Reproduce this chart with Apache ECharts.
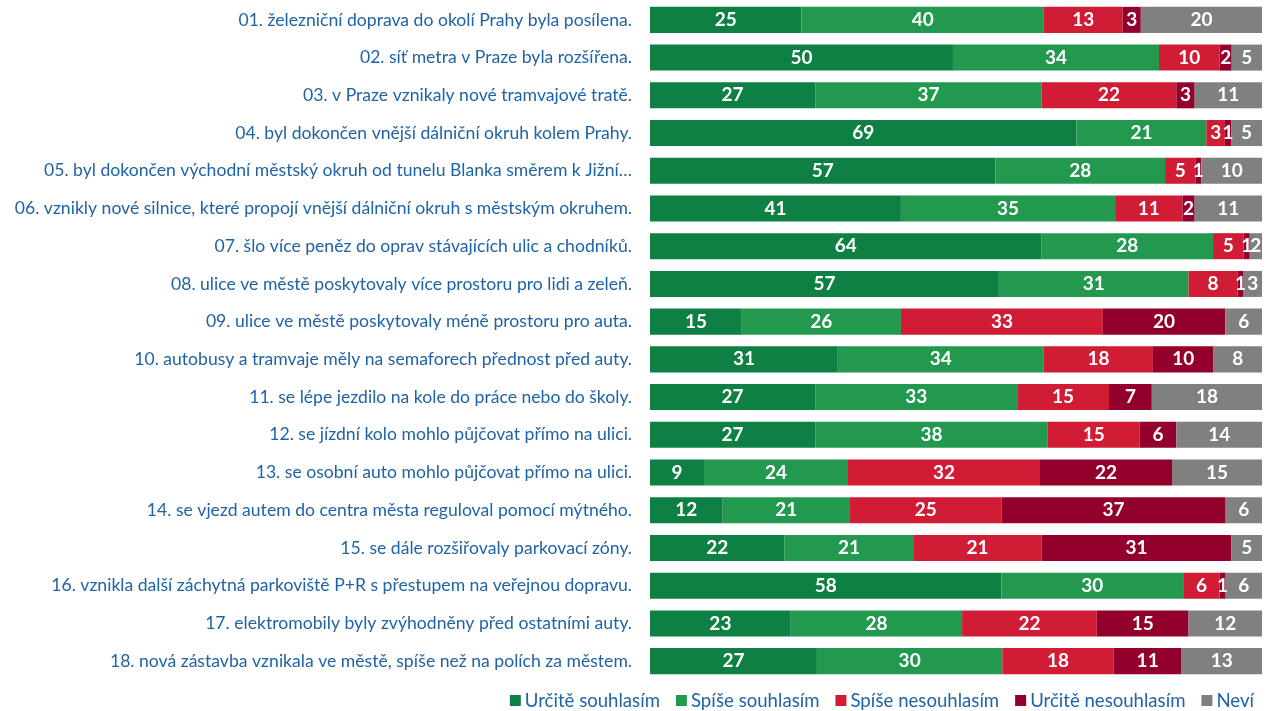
<!DOCTYPE html>
<html><head><meta charset="utf-8">
<script src="https://cdn.jsdelivr.net/npm/echarts@6/dist/echarts.min.js"></script>
<style>html,body{margin:0;padding:0;background:#fff}#c{width:1271px;height:711px}</style>
</head><body><div id="c"></div>
<script>
const categories = [
  "01. železniční doprava do okolí Prahy byla posílena.",
  "02. síť metra v Praze byla rozšířena.",
  "03. v Praze vznikaly nové tramvajové tratě.",
  "04. byl dokončen vnější dálniční okruh kolem Prahy.",
  "05. byl dokončen východní městský okruh od tunelu Blanka směrem k Jižní…",
  "06. vznikly nové silnice, které propojí vnější dálniční okruh s městským okruhem.",
  "07. šlo více peněz do oprav stávajících ulic a chodníků.",
  "08. ulice ve městě poskytovaly více prostoru pro lidi a zeleň.",
  "09. ulice ve městě poskytovaly méně prostoru pro auta.",
  "10. autobusy a tramvaje měly na semaforech přednost před auty.",
  "11. se lépe jezdilo na kole do práce nebo do školy.",
  "12. se jízdní kolo mohlo půjčovat přímo na ulici.",
  "13. se osobní auto mohlo půjčovat přímo na ulici.",
  "14. se vjezd autem do centra města reguloval pomocí mýtného.",
  "15. se dále rozšiřovaly parkovací zóny.",
  "16. vznikla další záchytná parkoviště P+R s přestupem na veřejnou dopravu.",
  "17. elektromobily byly zvýhodněny před ostatními auty.",
  "18. nová zástavba vznikala ve městě, spíše než na polích za městem."
];
const seriesNames = ["Určitě souhlasím","Spíše souhlasím","Spíše nesouhlasím","Určitě nesouhlasím","Neví"];
const urciteSouhlasim   = [25,50,27,69,57,41,64,57,15,31,27,27, 9,12,22,58,23,27];
const spiseSouhlasim    = [40,34,37,21,28,35,28,31,26,34,33,38,24,21,21,30,28,30];
const spiseNesouhlasim  = [13,10,22, 3, 5,11, 5, 8,33,18,15,15,32,25,21, 6,22,18];
const urciteNesouhlasim = [ 3, 2, 3, 1, 1, 2, 1, 1,20,10, 7, 6,22,37,31, 1,15,11];
const nevi              = [20, 5,11, 5,10,11, 2, 3, 6, 8,18,14,15, 6, 5, 6,12,13];
const colors = ["#0e8044","#23994f","#d01c35","#94002c","#808080"];

const raw = [urciteSouhlasim, spiseSouhlasim, spiseNesouhlasim, urciteNesouhlasim, nevi];
const totals = categories.map((_, i) => raw.reduce((s, a) => s + a[i], 0));

const chart = echarts.init(document.getElementById('c'), null, {renderer:'canvas'});
chart.setOption({
  animation:false,
  textStyle:{fontFamily:'Lato, "Open Sans", sans-serif'},
  legend:{
    data:seriesNames, right:12, bottom:-4, itemWidth:11, itemHeight:11, itemGap:16,
    icon:'rect', textStyle:{color:'#1f63a6', fontSize:18.6, fontFamily:'Lato', padding:[0,0,0,-1]}
  },
  grid:{left:650, right:9, top:1, bottom:31},
  xAxis:{type:'value', min:0, max:100, show:false},
  yAxis:{
    type:'category', data:categories, inverse:true,
    axisLine:{show:false}, axisTick:{show:false},
    axisLabel:{color:'#1f63a6', fontSize:17.6, margin:18, fontFamily:'Lato'}
  },
  series: raw.map((arr, k) => ({
    name:seriesNames[k], type:'bar', stack:'s', barCategoryGap:'31%',
    itemStyle:{color:colors[k]},
    data: arr.map((v, i) => ({value: v / totals[i] * 100, raw: v})),
    label:{
      show:true, position:'inside', color:'#fff', fontSize:19, fontWeight:'bold',
      fontFamily:'Lato',
      formatter: p => p.data.raw
    }
  }))
});
</script></body></html>
